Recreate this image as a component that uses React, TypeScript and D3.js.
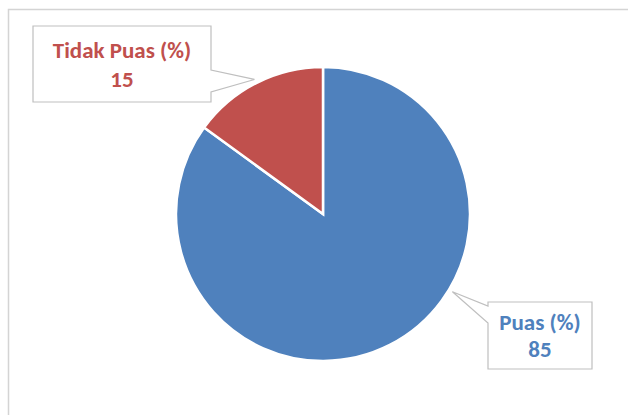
import React from "react";
import * as d3 from "d3";

const categories = ["Puas (%)", "Tidak Puas (%)"];
const values = [85, 15];
const colors = ["#4F81BD", "#C0504D"];
const textColors = ["#4F81BD", "#C0504D"];

const W = 628;
const H = 415;
const cx = 323;
const cy = 214;
const R = 147;

// callout layout (box rectangles and pointer angles in degrees from 12 o'clock)
const callouts = [
  { x0: 488, y0: 302, x1: 592, y1: 369, tipAngle: 121, side: "left", b0: 306, b1: 323, l1: 330, l2: 357 },
  { x0: 33, y0: 26, x1: 211, y1: 102, tipAngle: -27, side: "right", b0: 70, b1: 92, l1: 58, l2: 87 },
];

export default function App() {
  const pie = d3.pie<number>().sort(null).value((d) => d)(values);
  const arc = d3.arc<d3.PieArcDatum<number>>().innerRadius(0).outerRadius(R);

  return (
    <svg
      width={W}
      height={H}
      style={{ position: "absolute", left: 0, top: 0, background: "#fff" }}
      fontFamily="Carlito, 'Open Sans', 'Liberation Sans', sans-serif"
    >
      <rect x={8.5} y={9.5} width={W + 20} height={H + 20} fill="#fff" stroke="#d4d4d4" strokeWidth={1.5} />
      <g transform={`translate(${cx},${cy})`}>
        {pie.map((p, i) => (
          <path key={i} d={arc(p) || ""} fill={colors[i]} stroke="#fff" strokeWidth={2.5} />
        ))}
      </g>
      {callouts.map((c, i) => {
        const a = (c.tipAngle * Math.PI) / 180;
        const tr = R + 4;
        const tx = cx + tr * Math.sin(a);
        const ty = cy - tr * Math.cos(a);
        let d: string;
        if (c.side === "right") {
          d = `M${c.x0},${c.y0}H${c.x1}V${c.b0}L${tx},${ty}L${c.x1},${c.b1}V${c.y1}H${c.x0}Z`;
        } else {
          d = `M${c.x0},${c.y0}H${c.x1}V${c.y1}H${c.x0}V${c.b1}L${tx},${ty}L${c.x0},${c.b0}Z`;
        }
        const mx = (c.x0 + c.x1) / 2;
        return (
          <g key={i}>
            <path d={d} fill="#fff" stroke="#bfbfbf" strokeWidth={1.2} />
            <text x={mx} y={c.l1} textAnchor="middle" fontSize={23} fontWeight={700} fill={textColors[i]}>
              {categories[i]}
            </text>
            <text x={mx} y={c.l2} textAnchor="middle" fontSize={23} fontWeight={700} fill={textColors[i]}>
              {values[i]}
            </text>
          </g>
        );
      })}
    </svg>
  );
}
